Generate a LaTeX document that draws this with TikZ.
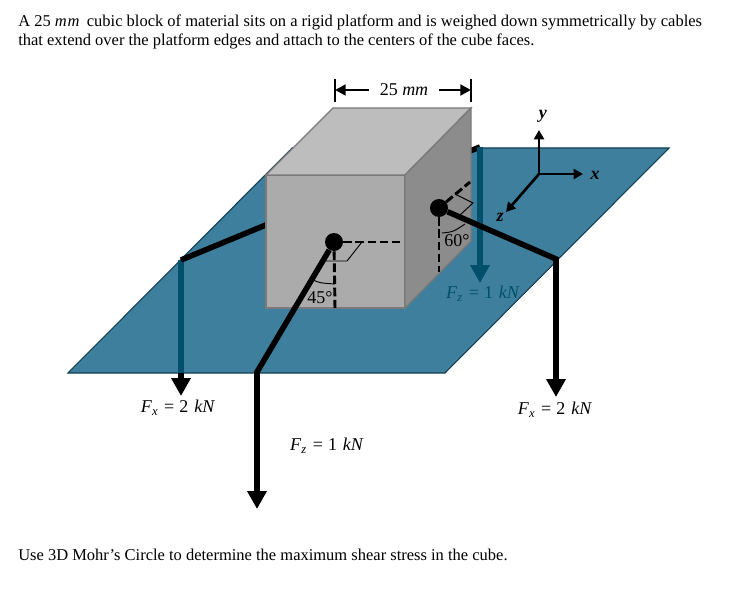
\documentclass[tikz,border=0pt]{standalone}
\usepackage{amsmath}
\usepackage{fontspec}
\setmainfont{Liberation Serif}
\usetikzlibrary{arrows.meta, positioning, calc}
\definecolor{platefill}{HTML}{3E7F9E}
\definecolor{plateedge}{HTML}{123F52}
\definecolor{cabledark}{HTML}{00506B}
\definecolor{cubefront}{HTML}{ABABAB}
\definecolor{cubetop}{HTML}{BDBDBD}
\definecolor{cuberight}{HTML}{8C8C8C}
\definecolor{cubeedge}{HTML}{7A7A7A}
\newcommand{\forcetext}[2]{\textit{F}\raisebox{-2.5pt}{\fontsize{9.5}{10}\selectfont\textit{#1}}\hspace{1.5pt} = \hspace{0.5pt}#2 \hspace{1pt}\textit{kN}}
\tikzset{
  cable/.style={line width=4.2pt},
  cablehead/.style={-{Triangle[length=13.5pt,width=14pt]}},
  dashline/.style={line width=2.2pt, dash pattern=on 6.5pt off 2.6pt},
  thinmark/.style={line width=0.7pt},
  axisline/.style={line width=2pt, -{Triangle[length=7pt,width=7.5pt]}},
  dimline/.style={line width=2.2pt, -{Triangle[length=8pt,width=8pt]}},
  textline/.style={anchor=base west, inner sep=0pt, font=\fontsize{12.37}{14}\selectfont},
  mathlabel/.style={inner sep=0pt, font=\fontsize{13.5}{15}\selectfont},
}
\begin{document}
\begin{tikzpicture}[x=0.75pt,y=-0.75pt]
\useasboundingbox (0,0) rectangle (740,592);

% Problem text
\node[textline] (topone) at (18,27) {A 25 \textit{m\hspace{0.6pt}m}\hspace{2.4pt} cubic block of material sits on a rigid platform and is weighed down symmetrically by cables};
\node[textline] (toptwo) at (18,46) {that extend over the platform edges and attach to the centers of the cube faces.};
\node[textline] (question) at (18,560) {Use 3D Mohr's Circle to determine the maximum shear stress in the cube.};

% Platform
\draw[fill=platefill, draw=plateedge, line width=0.8pt] (68,373) -- (445,373) -- (669,148) -- (292,148) -- cycle;

% Left cable
\coordinate (leftstart) at (290,215);
\coordinate (leftbend) at (181,260);
\coordinate (leftedge) at (181,373);
\coordinate (lefttip) at (181,396);
\draw[cable, cabledark] (leftbend) -- (leftedge);
\draw[cable] (leftstart) -- (leftbend);
\draw[cable, cablehead] (leftedge) -- (lefttip);

% Back cable
\coordinate (backstart) at (460,155);
\coordinate (backbend) at (480,147);
\coordinate (backtip) at (480,283);
\draw[cable] (backstart) -- (backbend);
\draw[cable, cablehead, cabledark] (backbend) -- (backtip);

% Cube
\draw[fill=cubefront, draw=cubeedge, line width=1pt] (266,175) -- (405,175) -- (405,308) -- (266,308) -- cycle;
\draw[fill=cubetop, draw=cubeedge, line width=1pt] (266,175) -- (333,108) -- (471,108) -- (405,175) -- cycle;
\draw[fill=cuberight, draw=cubeedge, line width=1pt] (405,175) -- (471,108) -- (471,241) -- (405,308) -- cycle;

% Dots on the faces
\node[circle, fill=black, inner sep=0pt, minimum size=13.5pt] (dotfront) at (334,242) {};
\node[circle, fill=black, inner sep=0pt, minimum size=13.5pt] (dotright) at (439,208) {};

% Dashed guides
\coordinate (frontdown) at (335,308);
\coordinate (frontside) at (402,242);
\coordinate (rightdown) at (439,272);
\coordinate (rightback) at (470,182);
\draw[dashline] (dotfront) -- (frontside);
\draw[dashline] (dotfront) -- (frontdown);
\draw[dashline] (dotright) -- (rightdown);
\draw[dashline] (dotright) -- (rightback);

% Angle marks
\draw[thinmark] (326,261) -- (347,261) -- (362,242);
\draw[thinmark] (455,194) -- (473,203) -- (460,215);
\draw[thinmark] (313,280) .. controls (320,283) .. (335,284);
\draw[thinmark] (442,233) .. controls (453,232) .. (465,224);
\node[mathlabel] (anglefront) at (320,298) {45°};
\node[mathlabel] (angleright) at (457,241) {60°};

% Front cable
\coordinate (frontbend) at (257,372);
\coordinate (fronttip) at (257,509);
\draw[cable, cablehead, line join=miter] (dotfront) -- (frontbend) -- (fronttip);

% Right cable
\coordinate (rightbend) at (556,259);
\coordinate (righttip) at (556,397);
\draw[cable, cablehead, line join=miter] (dotright) -- (rightbend) -- (righttip);

% Axes
\coordinate (origin) at (539,174);
\coordinate (ytip) at (539,130);
\coordinate (xtip) at (583,174);
\coordinate (ztip) at (506,212);
\draw[axisline] (origin) -- (ytip);
\draw[axisline] (origin) -- (xtip);
\draw[axisline] (origin) -- (ztip);
\node[mathlabel] (ylabel) at (543,116) {\textbf{\textit{y}}};
\node[mathlabel] (xlabel) at (595,175) {\textbf{\textit{x}}};
\node[mathlabel] (zlabel) at (500,217) {\textbf{\textit{z}}};

% Width dimension
\coordinate (dimlefttop) at (335,79);
\coordinate (dimleftlow) at (335,102);
\coordinate (dimrighttop) at (471,79);
\coordinate (dimrightlow) at (471,102);
\coordinate (dimleft) at (335,90);
\coordinate (dimright) at (471,90);
\node[mathlabel] (dimtext) at (404,90) {25 \textit{mm}};
\draw[line width=2.2pt] (dimlefttop) -- (dimleftlow);
\draw[line width=2.2pt] (dimrighttop) -- (dimrightlow);
\draw[dimline] ($(dimtext.west)+(-10,0)$) -- (dimleft);
\draw[dimline] ($(dimtext.east)+(10,0)$) -- (dimright);

% Force labels
\node[mathlabel] (fxleft) at (178,408) {\forcetext{x}{2}};
\node[mathlabel] (fxright) at (555,410) {\forcetext{x}{2}};
\node[mathlabel] (fzfront) at (327,446) {\forcetext{z}{1}};
\node[mathlabel, text=cabledark] (fzback) at (483,294) {\forcetext{z}{1}};
\end{tikzpicture}
\end{document}
